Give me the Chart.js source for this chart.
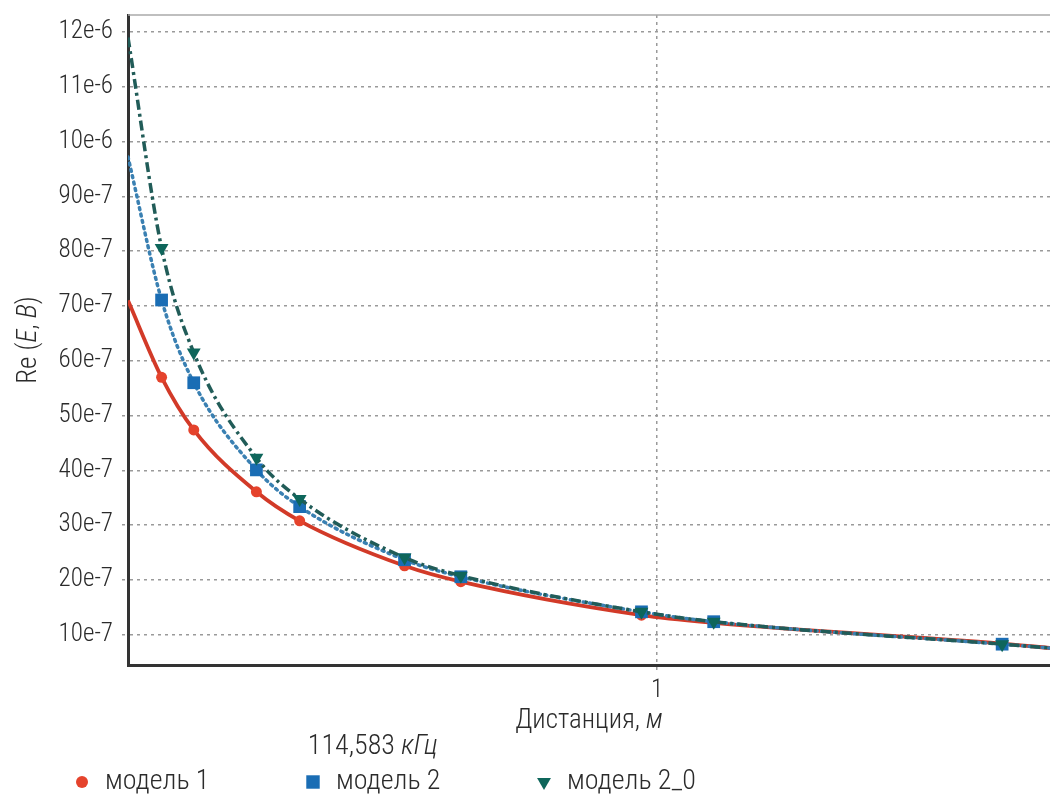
<!DOCTYPE html>
<html>
<head>
<meta charset="utf-8">
<script src="https://cdn.jsdelivr.net/npm/chart.js@4/dist/chart.umd.min.js"></script>
<style>
	html, body { margin: 0; padding: 0; background: #fff; }
	canvas { display: block; }
</style>
</head>
<body>
<canvas id="chart" width="1050" height="798"></canvas>
<script>
// distance, m (logarithmic axis)
var distance = [0.25, 0.273, 0.297, 0.35, 0.392, 0.516, 0.598, 0.96, 1.16, 2.47, 2.8];

// Re (E, B)
var model1 = [7.1e-6, 5.7e-6, 4.74e-6, 3.61e-6, 3.08e-6, 2.26e-6, 1.97e-6, 1.36e-6, 1.22e-6, 0.84e-6, 0.76e-6];
var model2 = [9.72e-6, 7.11e-6, 5.6e-6, 4.01e-6, 3.34e-6, 2.37e-6, 2.06e-6, 1.42e-6, 1.24e-6, 0.83e-6, 0.76e-6];
var model2_0 = [11.9e-6, 8.06e-6, 6.15e-6, 4.23e-6, 3.48e-6, 2.41e-6, 2.08e-6, 1.42e-6, 1.24e-6, 0.83e-6, 0.76e-6];

var seriesNames = ['модель 1', 'модель 2', 'модель 2_0'];

var xTickValues = [1];
var xTickLabels = ['1'];
var yTickValues = [1e-6, 2e-6, 3e-6, 4e-6, 5e-6, 6e-6, 7e-6, 8e-6, 9e-6, 10e-6, 11e-6, 12e-6];
var yTickLabels = ['10e-7', '20e-7', '30e-7', '40e-7', '50e-7', '60e-7', '70e-7', '80e-7', '90e-7', '10e-6', '11e-6', '12e-6'];

var xTitle = [['Дистанция, ', false], ['м', true]];
var yTitle = [['Re (', false], ['E', true], [', ', false], ['B', true], [')', false]];
var freqTitle = [['114,583 ', false], ['кГц', true]];

var family = "'Roboto Condensed', 'DejaVu Sans Condensed', sans-serif";
Chart.defaults.font.family = family;
Chart.defaults.font.size = 25;
Chart.defaults.font.weight = 300;
Chart.defaults.color = '#2b2b2b';

function points(values) {
	return distance.map(function(d, i) { return {x: d, y: values[i]}; });
}

// no marker at the two ends of each curve
function marker(r) {
	return function(ctx) {
		return (ctx.dataIndex === 0 || ctx.dataIndex === distance.length - 1) ? 0 : r;
	};
}

function fontOf(italic, size) {
	return (italic ? 'italic ' : '') + '300 ' + size + 'px ' + family;
}

// draw text made of plain and italic pieces, centred at x
function richText(ctx, parts, x, y, size) {
	var total = 0;
	parts.forEach(function(p) {
		ctx.font = fontOf(p[1], size);
		total += ctx.measureText(p[0]).width;
	});
	var cx = x - total / 2;
	parts.forEach(function(p) {
		ctx.font = fontOf(p[1], size);
		ctx.fillText(p[0], cx, y);
		cx += ctx.measureText(p[0]).width;
	});
}

var decorations = {
	id: 'decorations',
	afterDraw: function(chart) {
		var ctx = chart.ctx, area = chart.chartArea;
		ctx.save();

		// thin frame line on top of the plot
		ctx.strokeStyle = '#aaa';
		ctx.lineWidth = 1.5;
		ctx.beginPath();
		ctx.moveTo(area.left, area.top);
		ctx.lineTo(area.right, area.top);
		ctx.stroke();

		ctx.fillStyle = '#2b2b2b';
		ctx.textAlign = 'left';
		ctx.textBaseline = 'middle';

		// axis titles
		richText(ctx, xTitle, (area.left + area.right) / 2, chart.scales.x.bottom - 12, 27);
		ctx.save();
		ctx.translate(29, (area.top + area.bottom) / 2);
		ctx.rotate(-Math.PI / 2);
		richText(ctx, yTitle, 0, 0, 27);
		ctx.restore();

		// frequency caption
		richText(ctx, freqTitle, chart.width * 0.355, chart.height - 51, 28);

		// legend
		var y = chart.height - 16;
		chart.data.datasets.forEach(function(ds, i) {
			var x = 82 + i * 231;
			ctx.fillStyle = ds.backgroundColor;
			Chart.helpers.drawPoint(ctx, {
				pointStyle: ds.pointStyle,
				rotation: ds.pointRotation || 0,
				radius: ds.legendRadius,
				borderWidth: 0
			}, x, y);
			ctx.fillStyle = '#2b2b2b';
			ctx.font = fontOf(false, 28);
			ctx.fillText(ds.label, x + 23, y);
		});
		ctx.restore();
	}
};

var grid = {
	color: '#9a9a9a',
	lineWidth: 1.5,
	tickLength: 6,
	tickColor: '#9a9a9a',
	tickBorderDash: [3, 4]
};

var chart = new Chart(document.getElementById('chart'), {
	type: 'line',
	data: {
		datasets: [
			{
				label: seriesNames[0],
				data: points(model1),
				borderColor: '#d23a28',
				backgroundColor: '#e5432c',
				borderWidth: 3.8,
				pointStyle: 'circle',
				pointRadius: marker(5.5),
				pointBorderWidth: 0,
				legendRadius: 6,
				order: 3
			},
			{
				label: seriesNames[1],
				data: points(model2),
				borderColor: '#3a80b2',
				backgroundColor: '#1a6db4',
				borderWidth: 3.5,
				borderDash: [2, 4.5],
				borderCapStyle: 'round',
				pointStyle: 'rect',
				pointRadius: marker(9),
				pointBorderWidth: 0,
				legendRadius: 9.5,
				order: 2
			},
			{
				label: seriesNames[2],
				data: points(model2_0),
				borderColor: '#215c58',
				backgroundColor: '#0e665b',
				borderWidth: 3.5,
				borderDash: [10, 4, 3, 4],
				pointStyle: 'triangle',
				pointRotation: 180,
				pointRadius: marker(8),
				pointBorderWidth: 0,
				legendRadius: 8,
				order: 1
			}
		]
	},
	options: {
		responsive: false,
		animation: false,
		cubicInterpolationMode: 'monotone',
		layout: { padding: { top: 15, right: 0, bottom: 65, left: 0 } },
		plugins: {
			legend: { display: false },
			tooltip: { enabled: false }
		},
		scales: {
			x: {
				type: 'logarithmic',
				min: 0.25,
				max: 2.8,
				afterBuildTicks: function(scale) {
					scale.ticks = xTickValues.map(function(v) { return {value: v}; });
				},
				afterFit: function(scale) {
					scale.height = 68;
					scale.paddingLeft = 0;
					scale.paddingRight = 0;
				},
				ticks: {
					padding: 5,
					maxRotation: 0,
					callback: function(v, i) { return xTickLabels[i]; }
				},
				grid: grid,
				border: { color: '#333', width: 3, dash: [3, 4] }
			},
			y: {
				min: 0.45e-6,
				max: 12.31e-6,
				afterBuildTicks: function(scale) {
					scale.ticks = yTickValues.map(function(v) { return {value: v}; });
				},
				afterFit: function(scale) {
					scale.width = 128;
					scale.paddingTop = 0;
					scale.paddingBottom = 0;
				},
				ticks: {
					padding: 9,
					callback: function(v, i) { return yTickLabels[i]; }
				},
				grid: grid,
				border: { color: '#333', width: 3, dash: [3, 4] }
			}
		}
	},
	plugins: [decorations]
});
</script>
</body>
</html>
